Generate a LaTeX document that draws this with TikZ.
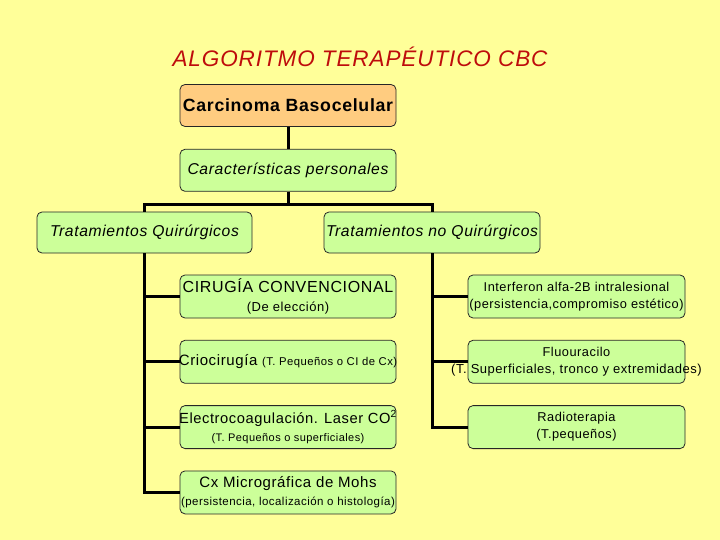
\documentclass[tikz,border=0pt]{standalone}
\usepackage{fontspec}
\setmainfont{Liberation Sans}[LetterSpace=4]
\usepackage{xcolor}
\usetikzlibrary{positioning}
\definecolor{bgyellow}{RGB}{255,255,153}
\definecolor{boxgreen}{RGB}{204,255,153}
\definecolor{boxorange}{RGB}{255,204,128}
\definecolor{titlered}{RGB}{190,12,12}
\newcommand{\szA}{\fontsize{15}{18}\selectfont}
\newcommand{\szB}{\fontsize{12.8}{17}\selectfont}
\newcommand{\szC}{\fontsize{11.5}{13}\selectfont}
\newcommand{\szD}{\fontsize{11.3}{12}\selectfont}
\newcommand{\wide}[1]{\makebox[0pt]{#1}}
\tikzset{
  box/.style={draw=black!85, line width=0.8pt, rounded corners=5pt, fill=boxgreen, align=center,
    minimum width=216pt, minimum height=42pt, inner sep=0pt, font=\szA},
  topbox/.style={box, fill=boxorange, font=\fontsize{17.7}{20}\selectfont\bfseries},
  catbox/.style={box, font=\fontsize{15.7}{18}\selectfont\itshape},
  trunk/.style={line width=3pt, draw=black},
}
\begin{document}
\begin{tikzpicture}[x=1pt, y=-1pt, node distance=21.5pt]
  \fill[bgyellow] (0,0) rectangle (720,540);
  \useasboundingbox (0,0) rectangle (720,540);

  \node[font=\fontsize{22.5}{26}\selectfont\itshape, text=titlered] (title) at (360,57) {ALGORITMO TERAPÉUTICO CBC};

  \node[topbox] (cbc) at (288,105.5) {Carcinoma Basocelular};
  \node[catbox, below=22pt of cbc] (carac) {Características personales};
  \node[catbox, minimum width=215pt, minimum height=41pt] (quir) at (144.5,232.5) {\wide{Tratamientos Quirúrgicos}};
  \node[catbox, minimum height=41pt] (noquir) at (432,232.5) {\wide{Tratamientos no Quirúrgicos}};

  % quirurgicos
  \node[box, minimum height=43pt] (cir) at (288,296.5) {{\fontsize{16}{18}\selectfont CIRUGÍA CONVENCIONAL}\\[1pt]{\fontsize{13}{13}\selectfont (De elección)}};
  \node[box, minimum height=43pt, below=of cir] (crio) {\wide{Criocirugía {\szD (T. Pequeños o CI de Cx)}}};
  \node[box, minimum height=43pt, below=of crio] (electro) {\wide{\fontsize{14.7}{18}\selectfont Electrocoagulación. Laser CO\textsuperscript{2}}\\{\fontsize{11}{13}\selectfont (T. Pequeños o superficiales)}};
  \node[box, minimum height=43pt, below=of electro] (mohs) {\wide{Cx Micrográfica de Mohs}\\{\szC \wide{(persistencia, localización o histología)}}};

  % no quirurgicos
  \node[box, font=\szB, minimum width=217pt, minimum height=43pt] (inter) at (576.5,296.5) {Interferon alfa-2B intralesional\\\wide{(persistencia,compromiso estético)}};
  \node[box, font=\szB, minimum width=217pt, minimum height=43pt, below=of inter] (fluo) {Fluouracilo\\\wide{\fontsize{13}{17}\selectfont(T. Superficiales, tronco y extremidades)}};
  \node[box, font=\szB, minimum width=217pt, minimum height=43pt, below=of fluo] (radio) {Radioterapia\\(T.pequeños)};

  \draw[trunk] (cbc) -- (carac);
  \draw[trunk] (carac.south) -- ++(0,13) -| (quir.north);
  \draw[trunk] (carac.south) -- ++(0,13) -| (noquir.north);
  \draw[trunk] (quir.south) |- (cir.west);
  \draw[trunk] (quir.south) |- (crio.west);
  \draw[trunk] (quir.south) |- (electro.west);
  \draw[trunk] (quir.south) |- (mohs.west);
  \draw[trunk] (noquir.south) |- (inter.west);
  \draw[trunk] (noquir.south) |- (fluo.west);
  \draw[trunk] (noquir.south) |- (radio.west);
\end{tikzpicture}
\end{document}
